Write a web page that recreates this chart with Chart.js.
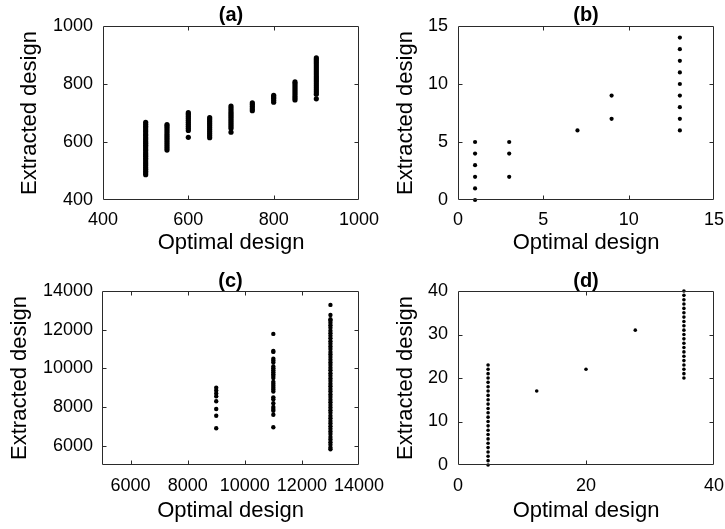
<!DOCTYPE html>
<html><head><meta charset="utf-8">
<script src="https://cdn.jsdelivr.net/npm/chart.js@4.4.1/dist/chart.umd.min.js"></script>
<style>
html,body{margin:0;padding:0;background:#fff;}
body{width:725px;height:529px;position:relative;overflow:hidden;}
.p{position:absolute;}
</style></head><body>
<div class="p" style="left:0;top:0;width:400px;height:264px"><canvas id="ca"></canvas></div>
<div class="p" style="left:360px;top:0;width:365px;height:264px"><canvas id="cb"></canvas></div>
<div class="p" style="left:0;top:264px;width:400px;height:265px"><canvas id="cc"></canvas></div>
<div class="p" style="left:360px;top:264px;width:365px;height:265px"><canvas id="cd"></canvas></div>
<script>
// ---------- text ----------
const panelTitles = ['(a)', '(b)', '(c)', '(d)'];
const xAxisTitle = 'Optimal design';
const yAxisTitle = 'Extracted design';

// ---------- panel (a) ----------
const aXTicks = [400, 600, 800, 1000];
const aYTicks = [400, 600, 800, 1000];
const aOptimal = [500, 550, 600, 650, 700, 750, 800, 850, 900];
const aY500 = [487, 493, 499, 506, 512, 519, 525, 531, 538, 544, 551, 557, 563, 570, 576, 583, 589, 596, 602, 609, 615, 622, 628, 635, 641, 648, 654, 661, 668];
const aY550 = [572, 579, 586, 593, 600, 607, 614, 621, 628, 635, 642, 649, 655, 660];
const aY600 = [616, 640, 647, 654, 661, 668, 675, 682, 689, 696, 701];
const aY650 = [615, 622, 629, 636, 643, 650, 657, 664, 671, 678, 684];
const aY700 = [634, 647, 654, 661, 668, 675, 682, 689, 696, 703, 710, 717, 724];
const aY750 = [708, 715, 722, 729, 735];
const aY800 = [737, 744, 751, 756, 761];
const aY850 = [745, 752, 759, 766, 773, 780, 787, 794, 801, 807];
const aY900 = [749, 765, 772, 779, 786, 793, 800, 807, 814, 821, 828, 835, 842, 849, 856, 863, 870, 877, 884, 890];
const aColumns = [aY500, aY550, aY600, aY650, aY700, aY750, aY800, aY850, aY900];

// ---------- panel (b) ----------
const bTicks = [0, 5, 10, 15];
const bOptimal = [1, 3, 7, 9, 13];
const bY1 = [0, 1, 2, 3, 4, 5];
const bY3 = [2, 4, 5];
const bY7 = [6];
const bY9 = [7, 9];
const bY13 = [6, 7, 8, 9, 10, 11, 12, 13, 14];
const bColumns = [bY1, bY3, bY7, bY9, bY13];

// ---------- panel (c) ----------
const cTicks = [6000, 8000, 10000, 12000, 14000];
const cOptimal = [9000, 11000, 13000];
const cY9000 = [6900, 7550, 7900, 8300, 8550, 8700, 8850, 9000];
const cY11000 = [6950, 7600, 7800, 7900, 8000, 8200, 8400, 8500, 8800, 8900, 9000, 9100, 9200, 9300, 9500, 9600, 9700, 9800, 9900, 10000, 10100, 10300, 10400, 10500, 10850, 10900, 11780];
const cY13000 = [5810, 5900, 6050, 6180, 6320, 6450, 6600, 6730, 6870, 7000, 7150, 7280, 7420, 7550, 7700, 7830, 7970, 8100, 8250, 8380, 8520, 8650, 8800, 8930, 9070, 9200, 9350, 9480, 9620, 9750, 9900, 10030, 10170, 10300, 10450, 10580, 10720, 10850, 11000, 11130, 11270, 11400, 11550, 11680, 11820, 11950, 12100, 12230, 12360, 12470, 12540, 12760, 13280];
const cColumns = [cY9000, cY11000, cY13000];

// ---------- panel (d) ----------
const dXTicks = [0, 20, 40];
const dYTicks = [0, 10, 20, 30, 40];
const dOptimal = [4.7, 12.3, 20, 27.7, 35.3];
const dY1 = [0, 1, 2, 3, 4, 5, 6, 7, 8, 9, 10, 11, 12, 13, 14, 15, 16, 17, 18, 19, 20, 21, 22, 23];
const dY2 = [17];
const dY3 = [22];
const dY4 = [31];
const dY5 = [20, 21, 22, 23, 24, 25, 26, 27, 28, 29, 30, 31, 32, 33, 34, 35, 36, 37, 38, 39, 40];
const dColumns = [dY1, dY2, dY3, dY4, dY5];

// ---------- helpers ----------
function toPoints(xs, cols) {
  const pts = [];
  xs.forEach((x, i) => cols[i].forEach(y => pts.push({x: x, y: y})));
  return pts;
}

const FONT = "'Liberation Sans', Arial, Helvetica, sans-serif";

const boxPlugin = {
  id: 'boxTicks',
  afterDraw(chart) {
    const ctx = chart.ctx;
    const a = chart.chartArea;
    const L = Math.round(a.left) + 0.5, R = Math.round(a.right) - 0.5;
    const T = Math.round(a.top) + 0.5, B = Math.round(a.bottom) - 0.5;
    ctx.save();
    ctx.strokeStyle = '#2a2a2a';
    ctx.lineWidth = 1;
    ctx.beginPath();
    ctx.rect(L, T, R - L, B - T);
    ctx.stroke();
    const tl = 4;
    ctx.beginPath();
    chart.scales.x.ticks.forEach(t => {
      const px = Math.round(chart.scales.x.getPixelForValue(t.value)) + 0.5;
      if (px <= L + 1 || px >= R - 1) return;
      ctx.moveTo(px, B); ctx.lineTo(px, B - tl);
      ctx.moveTo(px, T); ctx.lineTo(px, T + tl);
    });
    chart.scales.y.ticks.forEach(t => {
      const py = Math.round(chart.scales.y.getPixelForValue(t.value)) + 0.5;
      if (py <= T + 1 || py >= B - 1) return;
      ctx.moveTo(L, py); ctx.lineTo(L + tl, py);
      ctx.moveTo(R, py); ctx.lineTo(R - tl, py);
    });
    ctx.stroke();
    ctx.restore();
  }
};

function makePanel(id, p) {
  return new Chart(document.getElementById(id), {
    type: 'scatter',
    data: {datasets: [{
      data: p.points,
      pointRadius: p.radius,
      pointHoverRadius: p.radius,
      pointBackgroundColor: '#000',
      pointBorderWidth: 0,
      showLine: false
    }]},
    plugins: [boxPlugin],
    options: {
      responsive: true,
      maintainAspectRatio: false,
      animation: false,
      events: [],
      clip: false,
      layout: {padding: {left: 0, right: p.padRight, top: 0, bottom: 0}},
      plugins: {
        legend: {display: false},
        tooltip: {enabled: false},
        title: {
          display: true, text: p.title, fullSize: false, color: '#000',
          font: {family: FONT, size: 20, weight: 'bold', lineHeight: 1},
          padding: {top: p.titlePadTop, bottom: p.titlePadBottom}
        }
      },
      scales: {
        x: {
          type: 'linear', position: 'bottom', min: p.xMin, max: p.xMax,
          grid: {display: false, drawTicks: false},
          border: {display: false},
          afterBuildTicks: s => { s.ticks = p.xTicks.map(v => ({value: v})); },
          afterFit: s => { s.height = p.xAxisHeight; s.paddingLeft = 0; s.paddingRight = 0; },
          ticks: {color: '#000', padding: p.xTickPad, maxRotation: 0, autoSkip: false,
                  font: {family: FONT, size: 18}, callback: v => String(v)},
          title: {display: true, text: xAxisTitle, color: '#000',
                  font: {family: FONT, size: 22}, padding: {top: 0, bottom: p.xTitlePad}}
        },
        y: {
          type: 'linear', position: 'left', min: p.yMin, max: p.yMax,
          grid: {display: false, drawTicks: false},
          border: {display: false},
          afterBuildTicks: s => { s.ticks = p.yTicks.map(v => ({value: v})); },
          afterFit: s => { s.width = p.yAxisWidth; s.paddingTop = 0; s.paddingBottom = 0; },
          ticks: {color: '#000', padding: p.yTickPad, autoSkip: false,
                  font: {family: FONT, size: 18}, callback: v => String(v)},
          title: {display: true, text: yAxisTitle, color: '#000',
                  font: {family: FONT, size: 22}, padding: {top: p.yTitlePad, bottom: 0}}
        }
      }
    }
  });
}

makePanel('ca', {
  title: panelTitles[0], points: toPoints(aOptimal, aColumns), radius: 2.6,
  xMin: 400, xMax: 1000, yMin: 400, yMax: 1000, xTicks: aXTicks, yTicks: aYTicks,
  padRight: 41, titlePadTop: 5, titlePadBottom: 1, xAxisHeight: 64, yAxisWidth: 103,
  xTickPad: 9, xTitlePad: 8, yTickPad: 10, yTitlePad: 17
});
makePanel('cb', {
  title: panelTitles[1], points: toPoints(bOptimal, bColumns), radius: 2.1,
  xMin: 0, xMax: 15, yMin: 0, yMax: 15, xTicks: bTicks, yTicks: bTicks,
  padRight: 11, titlePadTop: 5, titlePadBottom: 1, xAxisHeight: 64, yAxisWidth: 98,
  xTickPad: 9, xTitlePad: 8, yTickPad: 10, yTitlePad: 33
});
makePanel('cc', {
  title: panelTitles[2], points: toPoints(cOptimal, cColumns), radius: 2.2,
  xMin: 5000, xMax: 14000, yMin: 5000, yMax: 14000, xTicks: cTicks, yTicks: cTicks,
  padRight: 41, titlePadTop: 7, titlePadBottom: 0, xAxisHeight: 64, yAxisWidth: 102,
  xTickPad: 10, xTitlePad: 5, yTickPad: 9, yTitlePad: 7
});
makePanel('cd', {
  title: panelTitles[3], points: toPoints(dOptimal, dColumns), radius: 1.8,
  xMin: 0, xMax: 40, yMin: 0, yMax: 40, xTicks: dXTicks, yTicks: dYTicks,
  padRight: 11, titlePadTop: 7, titlePadBottom: 0, xAxisHeight: 64, yAxisWidth: 98,
  xTickPad: 10, xTitlePad: 5, yTickPad: 10, yTitlePad: 33
});
</script>
</body></html>
